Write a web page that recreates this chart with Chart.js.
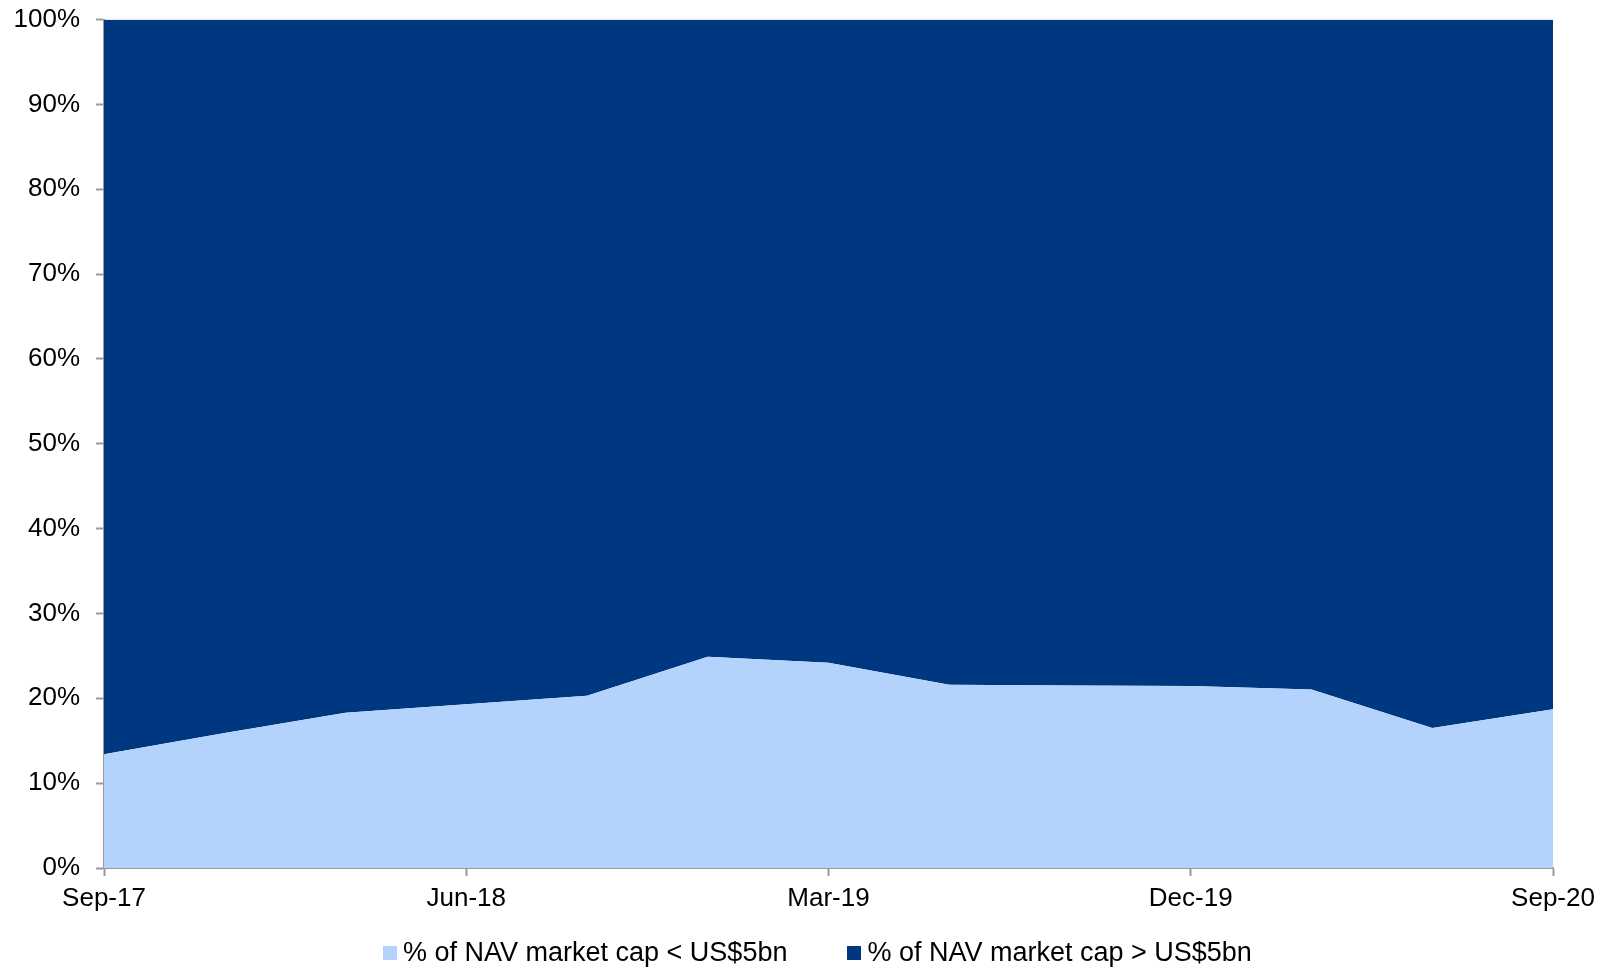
<!DOCTYPE html>
<html>
<head>
<meta charset="utf-8">
<script src="https://cdn.jsdelivr.net/npm/chart.js@4.4.0/dist/chart.umd.min.js"></script>
<style>
  html, body { margin: 0; padding: 0; background: #fff; }
  #wrap { width: 1605px; height: 969px; position: relative; }
  #js-legend { position: absolute; left: 383px; top: 937px; display: flex; align-items: center;
               font-family: 'Liberation Sans', Arial, sans-serif; font-size: 27px; color: #000; white-space: nowrap; }
  #js-legend .item { display: flex; align-items: center; margin-right: 60px; }
  #js-legend .box { width: 14px; height: 14px; margin-right: 6px; }
</style>
</head>
<body>
<div id="wrap"><canvas id="areaChart"></canvas><div id="js-legend"></div></div>
<script>
var quarters = ["Sep-17", "Dec-17", "Mar-18", "Jun-18", "Sep-18", "Dec-18", "Mar-19",
                "Jun-19", "Sep-19", "Dec-19", "Mar-20", "Jun-20", "Sep-20"];
var smallCap = [13.4, 15.9, 18.3, 19.3, 20.3, 24.9, 24.2, 21.6, 21.5, 21.45, 21.05, 16.5, 18.7];
var largeCap = [86.6, 84.1, 81.7, 80.7, 79.7, 75.1, 75.8, 78.4, 78.5, 78.55, 78.95, 83.5, 81.3];
var yTicks = [0, 10, 20, 30, 40, 50, 60, 70, 80, 90, 100];

var axisGrey = '#9a9a9a';
var font = { family: "'Liberation Sans', Arial, sans-serif", size: 26 };
Chart.defaults.color = '#000';

var ctx_area = document.getElementById("areaChart");
var areaChart = new Chart(ctx_area, {
    type: 'line',
    data: {
        labels: quarters,
        datasets: [{
            label: '% of NAV market cap < US$5bn',
            data: smallCap,
            backgroundColor: '#b3d3fc',
            borderWidth: 0,
            pointRadius: 0,
            fill: 'origin'
        }, {
            label: '% of NAV market cap > US$5bn',
            data: largeCap,
            backgroundColor: '#003781',
            borderWidth: 0,
            pointRadius: 0,
            fill: '-1'
        }]
    },
    options: {
        responsive: true,
        maintainAspectRatio: false,
        animation: false,
        layout: { padding: { left: 0, right: 52, top: 0, bottom: 0 } },
        plugins: {
            tooltip: { enabled: false },
            legend: { display: false }
        },
        scales: {
            x: {
                offset: false,
                border: { color: axisGrey, width: 2 },
                grid: {
                    drawOnChartArea: false,
                    tickLength: 8,
                    tickWidth: 2,
                    tickColor: function (c) { return c.index % 3 === 0 ? axisGrey : 'rgba(0,0,0,0)'; }
                },
                ticks: {
                    autoSkip: false,
                    maxRotation: 0,
                    font: font,
                    padding: 7,
                    callback: function (v, i) { return i % 3 === 0 ? quarters[i] : ''; }
                },
                afterFit: function (s) { s.height = 101; }
            },
            y: {
                stacked: true,
                min: 0,
                max: 100,
                border: { color: axisGrey, width: 2 },
                grid: {
                    drawOnChartArea: false,
                    tickLength: 8,
                    tickWidth: 2,
                    tickColor: axisGrey
                },
                afterBuildTicks: function (s) { s.ticks = yTicks.map(function (v) { return { value: v }; }); },
                ticks: {
                    font: font,
                    padding: 16,
                    callback: function (v) { return v + '%'; }
                },
                afterFit: function (s) { s.width = 104; s.paddingTop = 19.5; }
            }
        }
    }
});

// html legend built from the datasets
document.getElementById('js-legend').innerHTML = areaChart.data.datasets.map(function (d) {
    return '<span class="item"><span class="box" style="background:' + d.backgroundColor + '"></span>' + d.label + '</span>';
}).join('');
</script>
</body>
</html>
